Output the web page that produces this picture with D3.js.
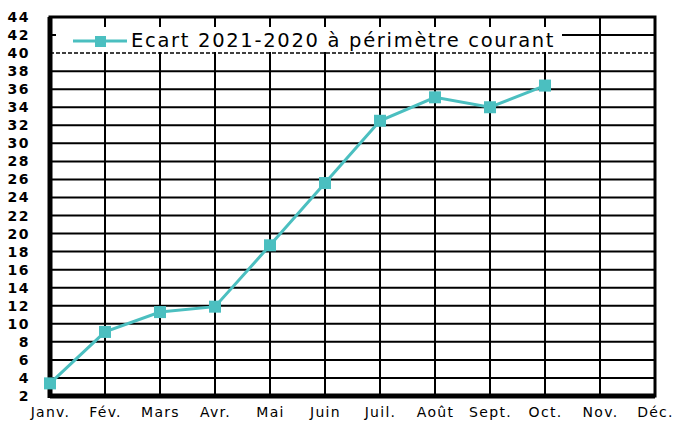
<!DOCTYPE html>
<html>
<head>
<meta charset="utf-8">
<title>ecart</title>
<script src="https://d3js.org/d3.v7.min.js"></script>
<style>
  body { margin: 0; background: #fff; }
  text { font-family: "DejaVu Sans", sans-serif; }
</style>
</head>
<body>
<div id="my_dataviz"></div>
<script>

// data
var months = ["Janv.", "Fév.", "Mars", "Avr.", "Mai", "Juin", "Juil.", "Août", "Sept.", "Oct.", "Nov.", "Déc."]
var ecart = [3.4, 9.1, 11.3, 11.9, 18.7, 25.6, 32.5, 35.1, 34.0, 36.4]
var yTicks = d3.range(2, 45, 2)
var seriesName = "Ecart 2021-2020 à périmètre courant"

var width = 674
    height = 421
    margin = {top: 17, right: 19, bottom: 25, left: 50}
var color = "#4bbfc0"

var svg = d3.select("#my_dataviz")
  .append("svg")
    .attr("width", width)
    .attr("height", height)

var x = d3.scalePoint()
  .domain(months)
  .range([margin.left, width - margin.right])

var y = d3.scaleLinear()
  .domain([2, 44])
  .range([height - margin.bottom, margin.top])

// horizontal grid (the 40 line is dashed in the original)
svg.append("g")
  .selectAll("line")
  .data(yTicks)
  .join("line")
    .attr("x1", margin.left).attr("x2", width - margin.right)
    .attr("y1", function(d) { return y(d) }).attr("y2", function(d) { return y(d) })
    .attr("stroke", "#000")
    .attr("stroke-width", function(d) { return d == 40 ? 1.5 : 2 })
    .attr("stroke-dasharray", function(d) { return d == 40 ? "4,2" : null })

// vertical grid
svg.append("g")
  .selectAll("line")
  .data(months)
  .join("line")
    .attr("x1", function(d) { return x(d) }).attr("x2", function(d) { return x(d) })
    .attr("y1", margin.top).attr("y2", height - margin.bottom)
    .attr("stroke", "#000")
    .attr("stroke-width", 2)

// legend box (white, hides the grid behind it)
var lg = svg.append("g")
lg.append("rect")
  .attr("x", 56).attr("y", 27).attr("width", 506).attr("height", 25)
  .attr("fill", "#fff")
lg.append("line")
  .attr("x1", 73).attr("x2", 127).attr("y1", 41).attr("y2", 41)
  .attr("stroke", color).attr("stroke-width", 3)
lg.append("rect")
  .attr("x", 95).attr("y", 36).attr("width", 11).attr("height", 11)
  .attr("fill", color)
lg.append("text")
  .attr("x", 131).attr("y", 41)
  .attr("dominant-baseline", "middle")
  .style("font-size", "19.5px")
  .style("letter-spacing", "1.7px")
  .text(seriesName)

// short ticks at top above the legend
svg.append("g")
  .selectAll("line")
  .data(months)
  .join("line")
    .attr("x1", function(d) { return x(d) }).attr("x2", function(d) { return x(d) })
    .attr("y1", margin.top).attr("y2", 27)
    .attr("stroke", "#000")
    .attr("stroke-width", 2)

// frame
svg.append("rect")
  .attr("x", margin.left).attr("y", margin.top)
  .attr("width", width - margin.right - margin.left)
  .attr("height", height - margin.bottom - margin.top)
  .attr("fill", "none")
  .attr("stroke", "#000")
  .attr("stroke-width", 3)
svg.append("line")
  .attr("x1", margin.left).attr("x2", margin.left)
  .attr("y1", margin.top).attr("y2", height - margin.bottom + 2)
  .attr("stroke", "#000").attr("stroke-width", 5)
svg.append("line")
  .attr("x1", margin.left).attr("x2", width - margin.right)
  .attr("y1", height - margin.bottom).attr("y2", height - margin.bottom)
  .attr("stroke", "#000").attr("stroke-width", 5)

// axes labels
svg.append("g")
  .attr("transform", "translate(" + (margin.left - 6) + ",0)")
  .call(d3.axisLeft(y).tickValues(yTicks).tickSize(0).tickPadding(14))
  .call(function(g) { g.select(".domain").remove() })
  .selectAll("text")
    .style("font-family", "'DejaVu Sans', sans-serif")
    .style("font-size", "14px")
    .style("font-weight", "bold")
    .style("letter-spacing", "1.5px")
    .attr("fill", "#000")

svg.append("g")
  .attr("transform", "translate(0," + (height - margin.bottom) + ")")
  .call(d3.axisBottom(x).tickSize(0).tickPadding(11))
  .call(function(g) { g.select(".domain").remove() })
  .selectAll("text")
    .style("font-family", "'DejaVu Sans', sans-serif")
    .style("font-size", "14px")
    .style("letter-spacing", "1.3px")
    .attr("fill", "#000")

// series
var line = d3.line()
  .x(function(d, i) { return x(months[i]) })
  .y(function(d) { return y(d) })

svg.append("path")
  .datum(ecart)
  .attr("d", line)
  .attr("fill", "none")
  .attr("stroke", color)
  .attr("stroke-width", 3)

svg.append("g")
  .selectAll("rect")
  .data(ecart)
  .join("rect")
    .attr("x", function(d, i) { return x(months[i]) - 6 })
    .attr("y", function(d) { return y(d) - 6 })
    .attr("width", 12).attr("height", 12)
    .attr("fill", color)

</script>
</body>
</html>
